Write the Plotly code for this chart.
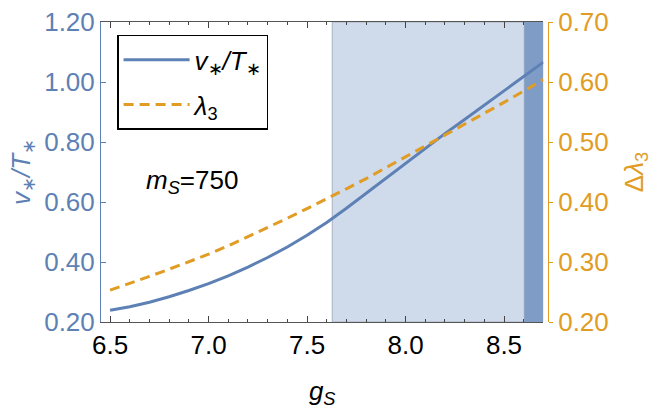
import plotly.graph_objects as go

# data
g_s = [6.5, 6.6, 6.7, 6.8, 6.9, 7.0, 7.1, 7.2, 7.3, 7.4, 7.5, 7.6,
       7.7, 7.8, 7.9, 8.0, 8.1, 8.2, 8.3, 8.4, 8.5, 8.6, 8.7]
v_over_t = [0.239, 0.251, 0.266, 0.284, 0.305, 0.328, 0.354, 0.383, 0.415,
            0.450, 0.489, 0.532, 0.579, 0.629, 0.680, 0.731, 0.780, 0.828,
            0.875, 0.922, 0.969, 1.017, 1.066]
lambda3 = [0.253, 0.264, 0.276, 0.288, 0.300, 0.313, 0.327, 0.342, 0.357,
           0.373, 0.389, 0.405, 0.422, 0.439, 0.457, 0.475, 0.493, 0.511,
           0.529, 0.547, 0.566, 0.585, 0.604]
light_band = (7.628, 8.603)
dark_band = (8.603, 8.7)

BLUE = "#5E81B5"
ORANGE = "#E19C24"
FONT = "Liberation Sans, Arial, sans-serif"
FS = 26

fig = go.Figure()

fig.add_trace(go.Scatter(
    x=g_s, y=v_over_t, mode="lines",
    name="<i>v</i><sub>∗</sub><i>/T</i><sub>∗</sub>",
    line=dict(color=BLUE, width=3),
    legendgroup="a",
))
fig.add_trace(go.Scatter(
    x=g_s, y=lambda3, mode="lines", yaxis="y2",
    name="<i>λ</i><sub>3</sub>",
    line=dict(color=ORANGE, width=3, dash="10px,6px"),
    legendgroup="b",
))

# shaded regions
fig.add_shape(type="rect", xref="x", yref="paper",
              x0=light_band[0], x1=light_band[1], y0=0, y1=1,
              fillcolor="#CFDAEA", line=dict(color="#A9B2BE", width=1),
              layer="below")
fig.add_shape(type="rect", xref="x", yref="paper",
              x0=dark_band[0], x1=dark_band[1], y0=0, y1=1,
              fillcolor="#7F9CC6", line=dict(width=0),
              layer="below")

fig.add_annotation(
    x=0.203, y=0.467, xref="paper", yref="paper", xanchor="center", yanchor="middle",
    text="<i>m</i><sub><i>S</i></sub>=750", showarrow=False,
    font=dict(size=FS, color="black", family=FONT),
)

fig.update_layout(
    width=654, height=409,
    margin=dict(l=101, r=106, t=22, b=87, autoexpand=False),
    paper_bgcolor="white", plot_bgcolor="white",
    font=dict(family=FONT, size=FS, color="black"),
    showlegend=True,
    legend=dict(
        x=0.036, y=0.957, xanchor="left", yanchor="top",
        bordercolor="black", borderwidth=1.5, bgcolor="white",
        font=dict(size=FS), tracegroupgap=8, itemwidth=66,
    ),
    xaxis=dict(
        domain=[0, 0.9897], range=[6.454, 8.7], automargin=False,
        tickvals=[6.5, 7.0, 7.5, 8.0, 8.5], tickformat=".1f",
        ticks="inside", ticklen=6, tickcolor="#444",
        minor=dict(dtick=0.1, tick0=6.5, ticks="inside", ticklen=3, tickcolor="#444"),
        showline=True, linecolor="#555", linewidth=1, mirror="ticks",
        showgrid=False, zeroline=False,
        tickfont=dict(size=FS, color="black"),
        title=dict(text="<i>g</i><sub><i>S</i></sub>", standoff=24,
                   font=dict(size=FS, color="black")),
    ),
    yaxis=dict(
        range=[0.2, 1.2], dtick=0.2, tickformat=".2f", automargin=False,
        ticks="inside", ticklen=5, tickcolor=BLUE,
        showline=True, linecolor=BLUE, linewidth=1,
        showgrid=False, zeroline=False,
        tickfont=dict(size=FS, color=BLUE),
        title=dict(text="<i>v</i><sub>∗</sub><i>/T</i><sub>∗</sub>", standoff=6,
                   font=dict(size=FS, color=BLUE)),
    ),
    yaxis2=dict(
        range=[0.2, 0.7], dtick=0.1, tickformat=".2f", automargin=False,
        overlaying="y", side="right", anchor="free", position=1.0,
        ticks="outside", ticklen=4, tickcolor=ORANGE,
        showline=True, linecolor=ORANGE, linewidth=1,
        showgrid=False, zeroline=False,
        tickfont=dict(size=FS, color=ORANGE),
        title=dict(text="Δ<i>λ</i><sub>3</sub>", standoff=16,
                   font=dict(size=FS, color=ORANGE)),
    ),
)

# drop the browser's default body margin so the figure sits at the page corner
fig.write_html("out.html", config={"displayModeBar": False},
               post_script="document.body.style.margin='0';")
